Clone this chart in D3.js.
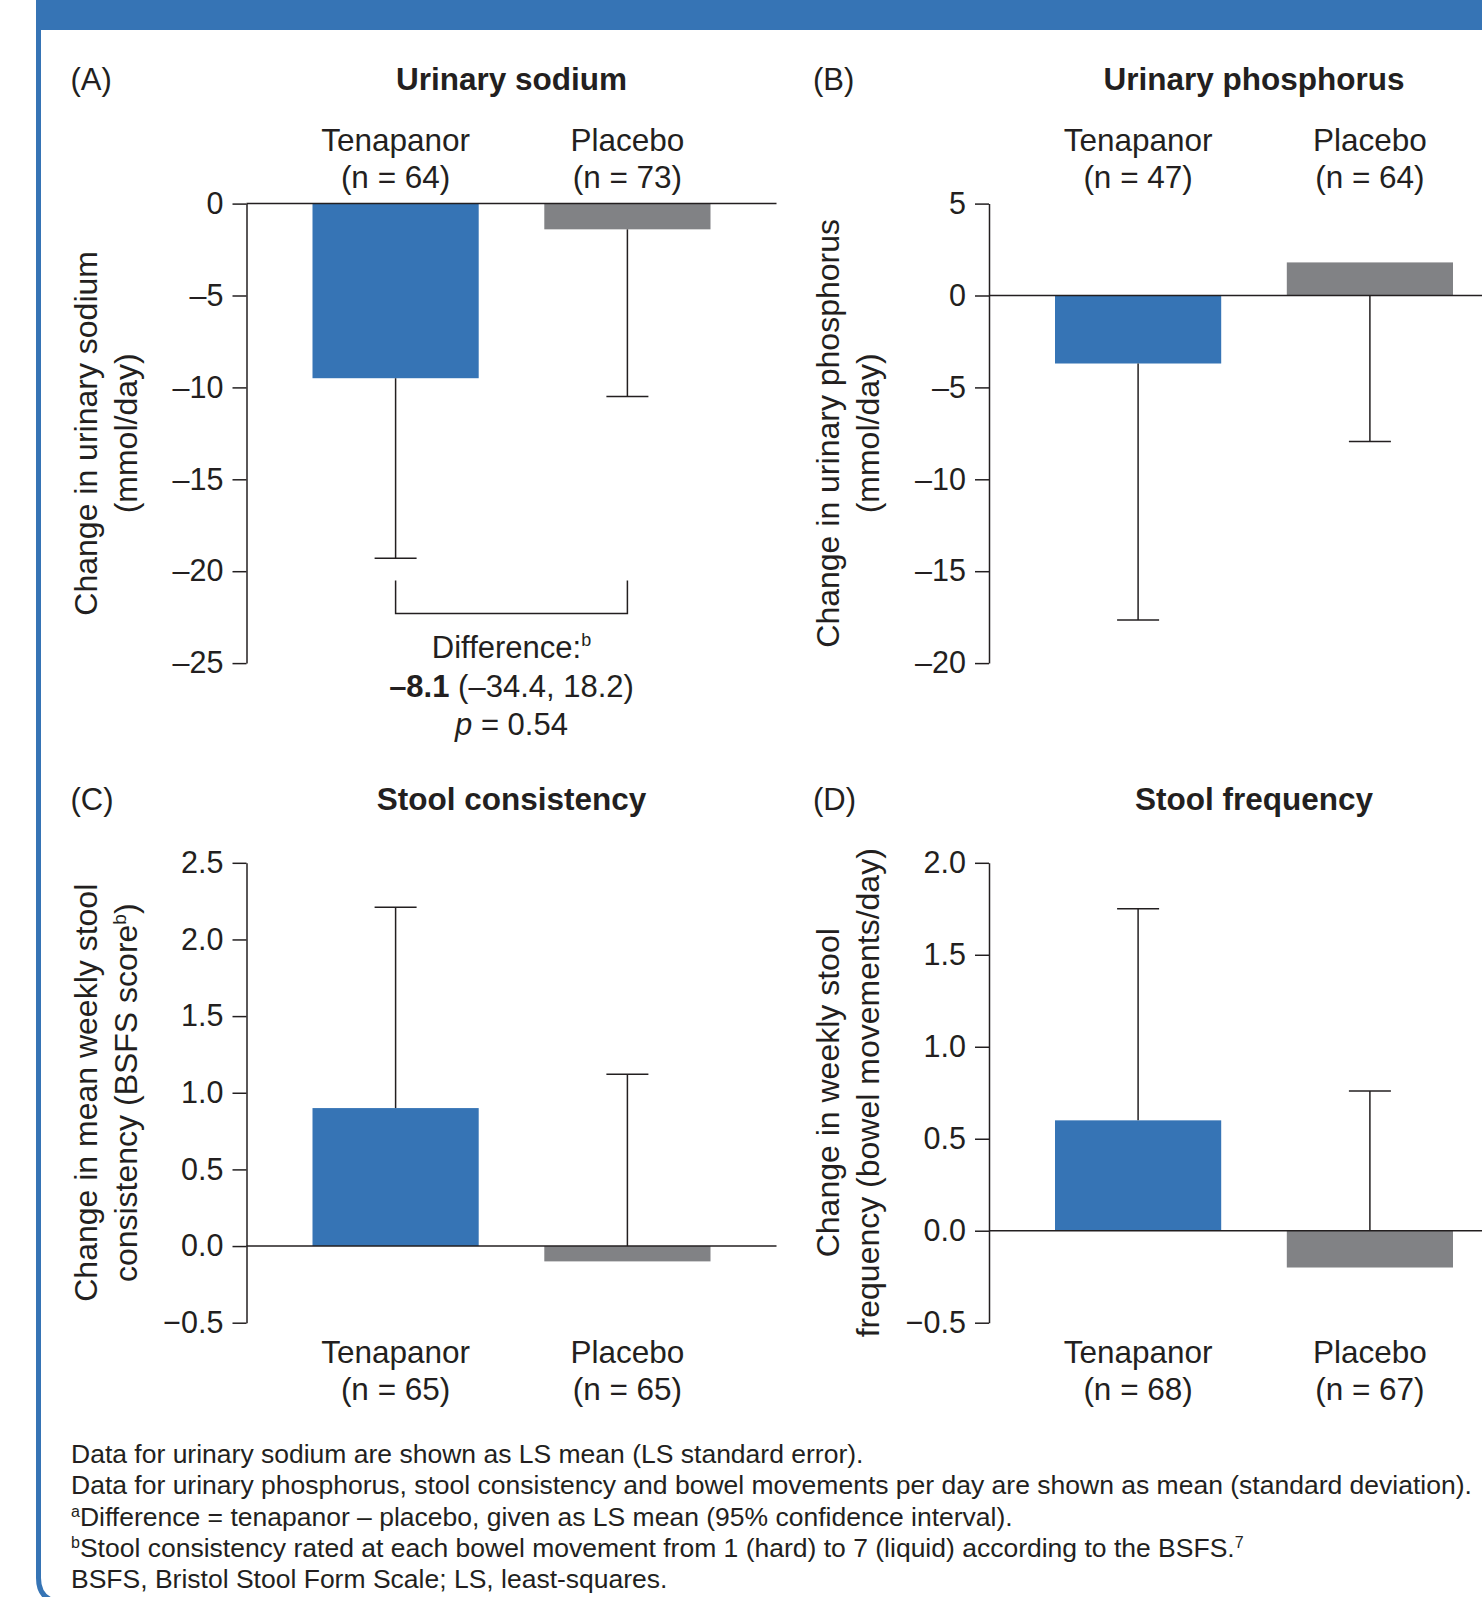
<!DOCTYPE html>
<html>
<head>
<meta charset="utf-8">
<script src="https://cdn.jsdelivr.net/npm/d3@7"></script>
<style>
  html, body { margin: 0; padding: 0; background: #fff; }
  svg { display: block; }
  text { font-family: "Liberation Sans", Arial, Helvetica, sans-serif; fill: #231f20; }
</style>
</head>
<body>
<svg id="chart" width="1482" height="1597"></svg>
<script>
// data
var groups = ['Tenapanor', 'Placebo'];

var sodiumN = [64, 73];
var sodiumMean = [-9.5, -1.4];
var sodiumErr = [9.8, 9.1];
var sodiumTicks = [0, -5, -10, -15, -20, -25];

var phosN = [47, 64];
var phosMean = [-3.7, 1.8];
var phosErr = [13.95, 9.75];
var phosTicks = [5, 0, -5, -10, -15, -20];

var consN = [65, 65];
var consMean = [0.9, -0.1];
var consErr = [1.31, 1.22];
var consTicks = [2.5, 2.0, 1.5, 1.0, 0.5, 0.0, -0.5];

var freqN = [68, 67];
var freqMean = [0.6, -0.2];
var freqErr = [1.15, 0.96];
var freqTicks = [2.0, 1.5, 1.0, 0.5, 0.0, -0.5];

var bracketRange = [-20.5, -22.3];

var footnotes = [
  [['', 'Data for urinary sodium are shown as LS mean (LS standard error).']],
  [['', 'Data for urinary phosphorus, stool consistency and bowel movements per day are shown as mean (standard deviation).']],
  [['sup', 'a'], ['', 'Difference = tenapanor \u2013 placebo, given as LS mean (95% confidence interval).']],
  [['sup', 'b'], ['', 'Stool consistency rated at each bowel movement from 1 (hard) to 7 (liquid) according to the BSFS.'], ['sup', '7']],
  [['', 'BSFS, Bristol Stool Form Scale; LS, least-squares.']]
];

var BLUE = '#3674b5', GREY = '#818285', INK = '#231f20';
var dash = function(s){ return String(s).replace('-', '\u2013'); };
var fmtInt = function(d){ return dash(d); };
var fmtDec = function(d){ return dash(d3.format('.1f')(d)); };

var svg = d3.select('#chart');

// frame: blue header band + left border with rounded foot
svg.append('rect').attr('x', 36).attr('y', 0).attr('width', 1446).attr('height', 30).style('fill', BLUE);
svg.append('path')
   .attr('d', 'M38.5,0 V1578 Q38.5,1600 60,1602')
   .style('fill', 'none').style('stroke', BLUE).style('stroke-width', 5);

var panel = function(o){
  var g = svg.append('g').attr('transform', d3.zoomIdentity.translate(o.x, 0));
  var y = d3.scaleLinear().domain([o.ticks[0], o.ticks[o.ticks.length-1]]).range([o.top, o.bottom]);
  var x = d3.scaleBand().domain(groups).range([66, 464]).paddingInner(0.283).paddingOuter(0);

  // letter + title
  svg.append('text').text(o.letter).attr('x', o.x - 176).attr('y', o.titleY).style('font-size', '31px');
  g.append('text').text(o.title).attr('x', 265).attr('y', o.titleY)
   .style('font-size', '31.5px').style('font-weight', 'bold').style('text-anchor', 'middle');

  // y-axis label, two lines
  var yl = g.append('text').attr('transform', 'translate(0,' + ((o.top + o.bottom)/2) + ') rotate(-90)')
            .style('font-size', '32px').style('text-anchor', 'middle');
  yl.append('tspan').attr('x', 0).attr('y', -150).text(o.ylab[0]);
  var l2 = yl.append('tspan').attr('x', 0).attr('y', -110);
  l2.append('tspan').text(o.ylab[1]);
  if (o.ylabSup) {
    l2.append('tspan').text(o.ylabSup).attr('dy', -11).style('font-size', '19px');
    l2.append('tspan').text(o.ylab[2]).attr('dy', 11);
  }

  // bars
  var rows = groups.map(function(k, i){ return {key: k, n: o.n[i], mean: o.mean[i], err: o.err[i]}; });
  g.append('g').selectAll('rect').data(rows).enter().append('rect')
   .attr('x', function(d){ return x(d.key); })
   .attr('width', x.bandwidth())
   .attr('y', function(d){ return y(Math.max(0, d.mean)); })
   .attr('height', function(d){ return Math.abs(y(d.mean) - y(0)); })
   .style('fill', function(d, i){ return i === 0 ? BLUE : GREY; });

  // error bars (one side only)
  var eb = g.append('g').style('stroke', INK).style('stroke-width', 1.5);
  rows.forEach(function(d){
    var cx = x(d.key) + x.bandwidth()/2;
    var from = o.up ? Math.max(0, d.mean) : Math.min(0, d.mean);
    var to = o.up ? d.mean + d.err : d.mean - d.err;
    eb.append('line').attr('x1', cx).attr('x2', cx).attr('y1', y(from)).attr('y2', y(to));
    eb.append('line').attr('x1', cx - 21).attr('x2', cx + 21).attr('y1', y(to)).attr('y2', y(to));
  });

  // axis
  var ax = g.append('g')
    .call(d3.axisLeft(y).tickValues(o.ticks).tickSize(14).tickSizeOuter(0).tickPadding(9).tickFormat(o.fmt));
  ax.selectAll('path, line').style('stroke', INK).style('stroke-width', 1.5);
  ax.selectAll('text').style('font-size', '30.5px').style('fill', INK)
    .style('font-family', '"Liberation Sans", Arial, sans-serif');
  g.append('line').attr('x1', 0).attr('x2', 530).attr('y1', y(0)).attr('y2', y(0))
   .style('stroke', INK).style('stroke-width', 1.5);

  // category labels
  var cl = g.append('g').selectAll('text').data(rows).enter().append('text')
            .style('font-size', '31.5px').style('text-anchor', 'middle');
  var b1 = o.labelsTop ? o.top - 53 : o.bottom + 40;
  cl.append('tspan').attr('x', function(d){ return x(d.key) + x.bandwidth()/2; }).attr('y', b1).text(function(d){ return d.key; });
  cl.append('tspan').attr('x', function(d){ return x(d.key) + x.bandwidth()/2; }).attr('y', b1 + 37).text(function(d){ return '(n = ' + d.n + ')'; });

  return {g: g, x: x, y: y};
};

var pA = panel({x: 246.5, top: 203.6, bottom: 663.1, titleY: 90, letter: '(A)', title: 'Urinary sodium',
  ticks: sodiumTicks, fmt: fmtInt, n: sodiumN, mean: sodiumMean, err: sodiumErr, up: false, labelsTop: true,
  ylab: ['Change in urinary sodium', '(mmol/day)']});
panel({x: 989, top: 203.6, bottom: 663.1, titleY: 90, letter: '(B)', title: 'Urinary phosphorus',
  ticks: phosTicks, fmt: fmtInt, n: phosN, mean: phosMean, err: phosErr, up: false, labelsTop: true,
  ylab: ['Change in urinary phosphorus', '(mmol/day)']});
panel({x: 246.5, top: 862.8, bottom: 1322.7, titleY: 810, letter: '(C)', title: 'Stool consistency',
  ticks: consTicks, fmt: fmtDec, n: consN, mean: consMean, err: consErr, up: true, labelsTop: false,
  ylab: ['Change in mean weekly stool', 'consistency (BSFS score', ')'], ylabSup: 'b'});
panel({x: 989, top: 862.8, bottom: 1322.7, titleY: 810, letter: '(D)', title: 'Stool frequency',
  ticks: freqTicks, fmt: fmtDec, n: freqN, mean: freqMean, err: freqErr, up: true, labelsTop: false,
  ylab: ['Change in weekly stool', 'frequency (bowel movements/day)']});

// difference bracket in panel A
var cxT = pA.x('Tenapanor') + pA.x.bandwidth()/2, cxP = pA.x('Placebo') + pA.x.bandwidth()/2;
pA.g.append('path')
  .attr('d', 'M' + cxT + ',' + pA.y(bracketRange[0]) + 'V' + pA.y(bracketRange[1]) + 'H' + cxP + 'V' + pA.y(bracketRange[0]))
  .style('fill', 'none').style('stroke', INK).style('stroke-width', 1.5);
var dt = pA.g.append('text').style('font-size', '31px').style('text-anchor', 'middle');
var mid = (cxT + cxP)/2;
var t1 = dt.append('tspan').attr('x', mid).attr('y', pA.y(bracketRange[1]) + 45);
t1.append('tspan').text('Difference:');
t1.append('tspan').text('b').attr('dy', -12).style('font-size', '18px');
var t2 = dt.append('tspan').attr('x', mid).attr('y', pA.y(bracketRange[1]) + 84);
t2.append('tspan').text('\u20138.1').style('font-weight', 'bold');
t2.append('tspan').text(' (\u201334.4, 18.2)');
var t3 = dt.append('tspan').attr('x', mid).attr('y', pA.y(bracketRange[1]) + 122);
t3.append('tspan').text('p').style('font-style', 'italic');
t3.append('tspan').text(' = 0.54');

// footnotes
var fn = svg.append('g').attr('id', 'footnotes');
footnotes.forEach(function(parts, i){
  var t = fn.append('text').attr('x', 71).attr('y', 1463 + i*31.3).style('font-size', '26.5px');
  parts.forEach(function(p){
    if (p[0] === 'sup') t.append('tspan').text(p[1]).attr('dy', -9).style('font-size', '16px');
    else t.append('tspan').text(p[1]).attr('dy', t.selectAll('tspan').size() && parts[0][0] === 'sup' ? 9 : 0);
  });
});
</script>
</body>
</html>
